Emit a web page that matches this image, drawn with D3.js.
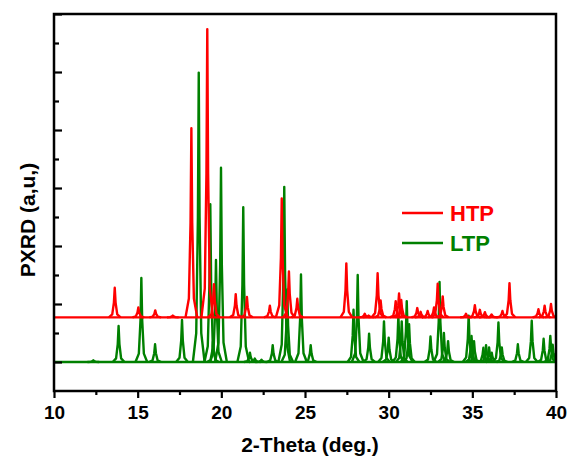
<!DOCTYPE html>
<html>
<head>
<meta charset="utf-8">
<script src="https://cdn.jsdelivr.net/npm/d3@7"></script>
<style>
  body { margin: 0; background: #fff; }
  text { font-family: "Liberation Sans", Arial, sans-serif; font-weight: bold; }
</style>
</head>
<body>
<svg id="graph" width="568" height="457"></svg>
<script>
// peak lists: [2-theta, intensity above own baseline]
const htpPeaks = [
  [13.63, 510], [15.04, 170], [16.05, 120], [17.1, 30], [18.21, 3260],
  [19.16, 4970], [19.56, 570], [20.86, 400], [21.53, 350], [22.9, 200],
  [23.61, 2050], [24.04, 790], [24.54, 320], [27.47, 930], [28.57, 60],
  [28.8, 30], [29.34, 760], [29.52, 290], [30.42, 280], [30.62, 410],
  [30.75, 300], [31.71, 160], [31.91, 95], [32.33, 110], [32.71, 170],
  [32.93, 580], [33.23, 360], [34.62, 60], [35.15, 210], [35.45, 130],
  [35.75, 90], [36.15, 50], [36.8, 110], [37.22, 590], [38.95, 140],
  [39.32, 200], [39.7, 230]
];
const ltpPeaks = [
  [12.35, 30], [13.86, 620], [15.22, 1450], [16.04, 305], [17.65, 725],
  [18.65, 4990], [19.34, 2720], [19.5, 350], [19.68, 1760], [19.98, 3350],
  [21.31, 2670], [21.71, 160], [22.0, 60], [22.4, 40], [23.07, 290],
  [23.76, 3020], [23.94, 1250], [24.76, 1510], [25.34, 290], [27.9, 900],
  [28.15, 1500], [28.83, 490], [29.72, 700], [30.0, 420], [30.58, 800],
  [30.78, 700], [31.08, 1050], [31.22, 650], [32.5, 440], [33.04, 1380],
  [33.3, 500], [33.55, 360], [34.78, 800], [34.95, 450], [35.1, 360],
  [35.66, 245], [35.82, 290], [36.0, 250], [36.16, 160], [36.56, 680],
  [36.76, 250], [37.72, 305], [38.55, 710], [39.26, 400], [39.66, 450],
  [39.8, 300]
];
const htpOffset = 770;
const xTicks = [10, 15, 20, 25, 30, 35, 40];
const xMinor = [12.5, 17.5, 22.5, 27.5, 32.5, 37.5];
const yTicks = [0, 1000, 2000, 3000, 4000, 5000, 6000];
const yMinor = [500, 1500, 2500, 3500, 4500, 5500];
const legendNames = ['HTP', 'LTP'];
const colors = ['#ff0000', '#008000'];

const m = { left: 54, right: 556, top: 14, bottom: 391 };

const x = d3.scaleLinear().domain([10, 40]).range([m.left, m.right]);
const y = d3.scaleLinear().domain([-500, 6000]).range([m.bottom, m.top]);

const svg = d3.select('#graph');

// peak glyph: offsets in 2-theta and fraction of height (lorentz-like spike)
const shape = [[-0.35, 0], [-0.15, 0.1], [-0.05, 0.5], [0, 1], [0.05, 0.5], [0.15, 0.1], [0.35, 0]];

const line = d3.line()
  .x(d => x(d[0]))
  .y(d => y(d[1]))
  .curve(d3.curveLinear);

const plot = svg.append('g');
plot.append('clipPath').attr('id', 'clip')
  .append('rect').attr('x', m.left).attr('y', m.top)
  .attr('width', m.right - m.left).attr('height', m.bottom - m.top);

function drawPattern(peaks, offset, color) {
  const g = plot.append('g').attr('clip-path', 'url(#clip)');
  g.append('path')
    .attr('d', line([[10, offset], [40, offset]]))
    .attr('fill', 'none').attr('stroke', color).attr('stroke-width', 2.4);
  g.selectAll('path.peak')
    .data(peaks)
    .enter().append('path')
    .attr('class', 'peak')
    .attr('d', p => line(shape.map(s => [p[0] + s[0], offset + s[1] * p[1]])))
    .attr('fill', 'none')
    .attr('stroke', color)
    .attr('stroke-width', 2.4)
    .attr('stroke-linejoin', 'round');
}

drawPattern(ltpPeaks, 0, colors[1]);
drawPattern(htpPeaks, htpOffset, colors[0]);

// frame
svg.append('rect')
  .attr('x', m.left).attr('y', m.top)
  .attr('width', m.right - m.left).attr('height', m.bottom - m.top)
  .attr('fill', 'none').attr('stroke', '#000').attr('stroke-width', 2.5);

// x axis
const xAxis = svg.append('g')
  .attr('transform', `translate(0, ${m.bottom})`)
  .call(d3.axisBottom(x).tickValues(xTicks).tickSize(7).tickPadding(8).tickFormat(d3.format('d')));
xAxis.select('.domain').remove();
xAxis.selectAll('line').attr('stroke', '#000').attr('stroke-width', 2.2);
xAxis.selectAll('text').attr('font-size', 19).attr('fill', '#000')
  .attr('font-family', '"Liberation Sans", Arial, sans-serif');

const xAxisMinor = svg.append('g')
  .attr('transform', `translate(0, ${m.bottom})`)
  .call(d3.axisBottom(x).tickValues(xMinor).tickSize(4).tickFormat(''));
xAxisMinor.select('.domain').remove();
xAxisMinor.selectAll('line').attr('stroke', '#000').attr('stroke-width', 2.2);

// y axis, ticks pointing inward, no labels
const yAxis = svg.append('g')
  .attr('transform', `translate(${m.left}, 0)`)
  .call(d3.axisRight(y).tickValues(yTicks).tickSize(8).tickFormat(''));
yAxis.select('.domain').remove();
yAxis.selectAll('line').attr('stroke', '#000').attr('stroke-width', 2.2);

const yAxisMinor = svg.append('g')
  .attr('transform', `translate(${m.left}, 0)`)
  .call(d3.axisRight(y).tickValues(yMinor).tickSize(5).tickFormat(''));
yAxisMinor.select('.domain').remove();
yAxisMinor.selectAll('line').attr('stroke', '#000').attr('stroke-width', 2.2);

// titles
svg.append('text')
  .attr('x', 310).attr('y', 452)
  .attr('text-anchor', 'middle')
  .attr('font-size', 21)
  .text('2-Theta (deg.)');

svg.append('text')
  .attr('transform', 'translate(35, 220) rotate(-90)')
  .attr('text-anchor', 'middle')
  .attr('font-size', 21)
  .text('PXRD (a,u,)');

// legend
const legend = svg.append('g');
legendNames.forEach((name, i) => {
  const ly = 213 + i * 30;
  legend.append('line')
    .attr('x1', 402).attr('x2', 443).attr('y1', ly).attr('y2', ly)
    .attr('stroke', colors[i]).attr('stroke-width', 2.4);
  legend.append('text')
    .attr('x', 450).attr('y', ly + 8)
    .attr('font-size', 22)
    .attr('fill', colors[i])
    .text(name);
});
</script>
</body>
</html>
